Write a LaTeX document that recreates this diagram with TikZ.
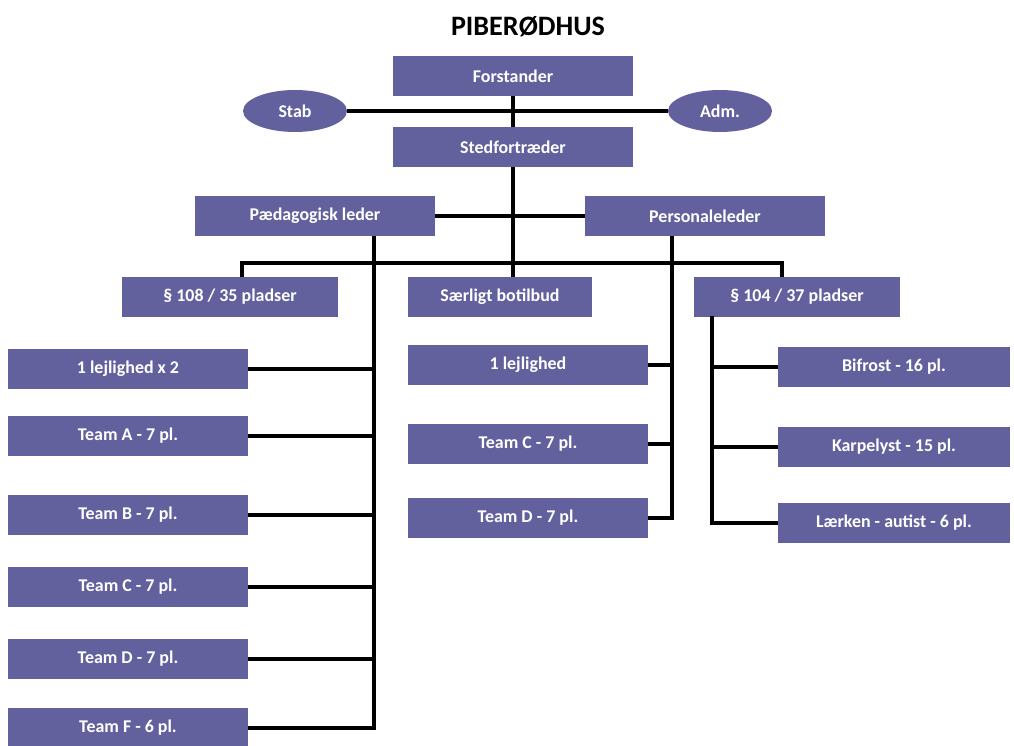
\documentclass[tikz,border=0pt]{standalone}
\usepackage{fontspec}
\setmainfont{Carlito}
\usepackage{xcolor}
\usepackage{tikz}
\usetikzlibrary{shapes,positioning}
\definecolor{boxblue}{RGB}{98,97,158}
\tikzset{box/.style={rectangle,fill=boxblue,text=white,font=\fontsize{10.2}{12}\selectfont\bfseries,minimum height=0.8cm,minimum width=4.8cm,inner sep=0pt}}
\tikzset{ell/.style={ellipse,fill=boxblue,text=white,font=\fontsize{10.2}{12}\selectfont\bfseries,minimum height=0.84cm,minimum width=2.08cm,inner sep=0pt}}
\tikzset{line/.style={draw=black,line width=1.9pt}}

\begin{document}
\begin{tikzpicture}[x=0.02cm,y=-0.02cm]
        \useasboundingbox (0,0) rectangle (1014,746);
        \node[font=\fontsize{16}{19}\selectfont\bfseries] (title) at (528,27) {PIBERØDHUS};

        \node[box] (forst) at (513,76) {Forstander};
        \node[ell] (stab) at (295,111) {Stab};
        \node[ell] (adm) at (720,111) {Adm.};
        \node[box] (sted) at (513,147) {Stedfortræder};
        \node[box] (paed) at (315,216) {Pædagogisk leder};
        \node[box] (pers) at (705,216) {Personaleleder};
        \node[box,minimum width=4.32cm] (p108) at (230,297) {§ 108 / 35 pladser};
        \node[box,minimum width=3.7cm] (sb) at (500,297) {Særligt botilbud};
        \node[box,minimum width=4.14cm] (p104) at (797,297) {§ 104 / 37 pladser};

        % § 108
        \node[box] (lej2) at (128,369) {1 lejlighed x 2};
        \node[box] (ta) at (128,436) {Team A - 7 pl.};
        \node[box] (tb) at (128,515) {Team B - 7 pl.};
        \node[box] (tc) at (128,587) {Team C - 7 pl.};
        \node[box] (td) at (128,659) {Team D - 7 pl.};
        \node[box] (tf) at (128,728) {Team F - 6 pl.};

        % Særligt botilbud
        \node[box] (lej1) at (528,365) {1 lejlighed};
        \node[box] (mtc) at (528,444) {Team C - 7 pl.};
        \node[box] (mtd) at (528,518) {Team D - 7 pl.};

        % § 104
        \node[box,minimum width=4.64cm] (bif) at (894,367) {Bifrost - 16 pl.};
        \node[box,minimum width=4.64cm] (karp) at (894,447) {Karpelyst - 15 pl.};
        \node[box,minimum width=4.64cm] (laer) at (894,523) {Lærken - autist - 6 pl.};

        \coordinate (busl) at (242,263);
        \coordinate (busr) at (782,263);
        \coordinate (pl) at (374,236);
        \coordinate (ql) at (672,236);
        \coordinate (rl) at (712,316);

        \draw [line] (stab.east) to (adm.west);
        \draw [line] (forst) to (sted);
        \draw [line] (sted.south) to (sted.south |- sb.north);
        \draw [line] (paed.east) to (pers.west);
        \draw [line] (busl |- p108.north) -- (busl) -- (busr) -- (busr |- p104.north);

        \draw [line] (pl) |- (tf.east);
        \foreach \b in {lej2,ta,tb,tc,td}
            \draw [line] (\b.east) to (\b.east -| pl);

        \draw [line] (ql) |- (mtd.east);
        \foreach \b in {lej1,mtc}
            \draw [line] (\b.east) to (\b.east -| ql);

        \draw [line] (rl) |- (laer.west);
        \foreach \b in {bif,karp}
            \draw [line] (\b.west) to (\b.west -| rl);
    \end{tikzpicture}
\end{document}
